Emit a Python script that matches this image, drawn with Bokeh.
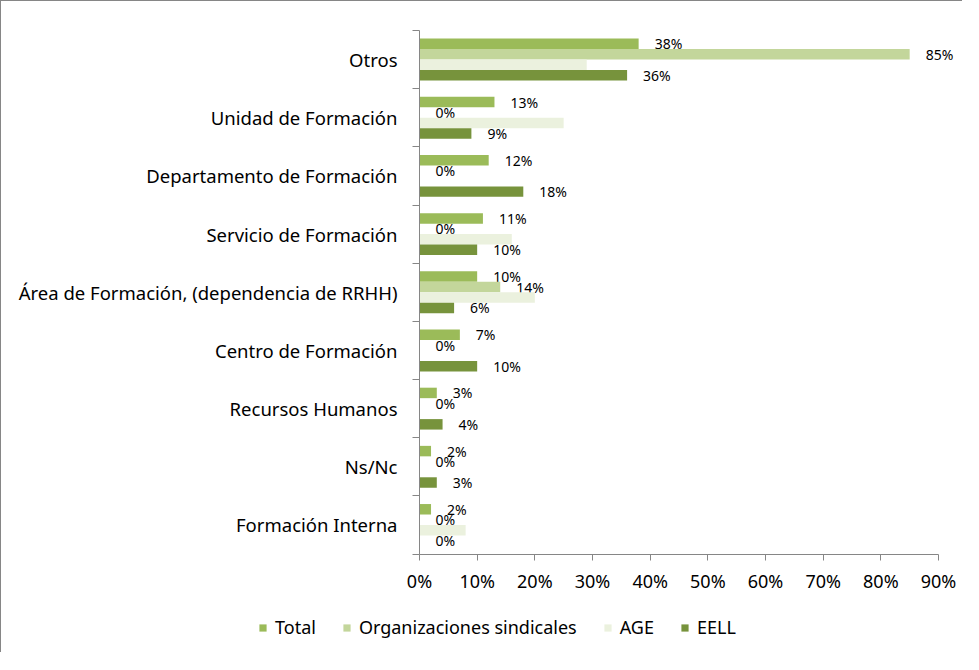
from bokeh.plotting import figure
from bokeh.models import (ColumnDataSource, Range1d, FixedTicker, Legend, LegendItem,
                          PrintfTickFormatter)
from bokeh.core.properties import value
from bokeh.embed import file_html
from bokeh.resources import INLINE

# ---- data (top to bottom as shown) ----
categories = ["Otros", "Unidad de Formación", "Departamento de Formación",
              "Servicio de Formación", "Área de Formación, (dependencia de RRHH)",
              "Centro de Formación", "Recursos Humanos", "Ns/Nc", "Formación Interna"]
series_names = ["Total", "Organizaciones sindicales", "AGE", "EELL"]
total = [38, 13, 12, 11, 10, 7, 3, 2, 2]
org_sindicales = [85, 0, 0, 0, 14, 0, 0, 0, 0]
age = [29, 25, 0, 16, 20, 0, 0, 0, 8]
eell = [36, 9, 18, 10, 6, 10, 4, 3, 0]
x_ticks = [0, 10, 20, 30, 40, 50, 60, 70, 80, 90]

colors = ["#9BBB59", "#C3D69B", "#EBF1DE", "#77933C"]
offsets = [0.27, 0.09, -0.09, -0.27]
show_labels = [True, True, False, True]
FONT = "Noto Sans"
AXIS_GREY = "#868686"

n = len(categories)
pos = [n - 1 - i for i in range(n)]

# layout geometry (pixels)
W, H = 962, 652
LEFT_PX, TOP_PX, BOTTOM_PX = 418, 29, 99.5
px_x = 519 / x_ticks[-1]          # pixels per percent
px_y = 524 / n                    # pixels per category
x_lo, x_hi = x_ticks[0], x_ticks[-1]
y_lo, y_hi = -0.5, n - 0.5

p = figure(width=W, height=H, output_backend="svg", toolbar_location=None,
           x_range=Range1d(x_lo - LEFT_PX / px_x, x_lo + (W - LEFT_PX) / px_x),
           y_range=Range1d(y_lo - BOTTOM_PX / px_y, y_hi + TOP_PX / px_y),
           min_border_left=0, min_border_right=0, min_border_top=0, min_border_bottom=0,
           styles={"border-left": f"1px solid {AXIS_GREY}", "border-top": f"1px solid {AXIS_GREY}"})
p.outline_line_color = None
p.xgrid.grid_line_color = None
p.ygrid.grid_line_color = None

renderers = []
for vals, name, col, off, show in zip([total, org_sindicales, age, eell], series_names,
                                      colors, offsets, show_labels):
    src = ColumnDataSource(dict(y=[pp + off for pp in pos], v=vals,
                                lbl=[f"{v}%" for v in vals]))
    r = p.hbar(y="y", left=0, right="v", height=0.18, source=src,
               fill_color=col, line_color=None)
    renderers.append(r)
    if show:
        p.text(x="v", y="y", text="lbl", source=src, x_offset=16,
               text_baseline="middle", text_align="left",
               text_font=value(FONT), text_font_size="14px", text_color="#000000")

# y axis (inside the frame at x = 0)
ya = p.yaxis[0]
ya.fixed_location = x_lo
ya.bounds = (y_lo, y_hi)
ya.ticker = FixedTicker(ticks=pos, minor_ticks=[k - 0.5 for k in range(n + 1)])
ya.major_label_overrides = {pp: c for pp, c in zip(pos, categories)}
ya.major_tick_out = 0
ya.major_tick_in = 0
ya.minor_tick_out = 7
ya.minor_tick_in = 0
ya.minor_tick_line_color = AXIS_GREY
ya.axis_line_color = AXIS_GREY
ya.major_label_text_font = FONT
ya.major_label_text_font_size = "18.5px"
ya.major_label_text_color = "#000000"
ya.major_label_standoff = 15

# x axis (inside the frame at the bottom of the category band)
xa = p.xaxis[0]
xa.fixed_location = y_lo
xa.bounds = (x_lo, x_hi)
xa.ticker = FixedTicker(ticks=x_ticks)
xa.formatter = PrintfTickFormatter(format="%d%%")
xa.major_tick_out = 6
xa.major_tick_in = 0
xa.minor_tick_out = 0
xa.minor_tick_in = 0
xa.major_tick_line_color = AXIS_GREY
xa.axis_line_color = AXIS_GREY
xa.major_label_text_font = FONT
xa.major_label_text_font_size = "18px"
xa.major_label_text_color = "#000000"
xa.major_label_standoff = 9

legend = Legend(items=[LegendItem(label=nm, renderers=[r]) for nm, r in zip(series_names, renderers)],
                orientation="horizontal", location=(257, 14),
                glyph_width=9, glyph_height=9, label_standoff=8, spacing=26,
                padding=0, margin=0, border_line_color=None, background_fill_alpha=0,
                label_text_font=FONT, label_text_font_size="18px", label_text_color="#000000",
                label_height=20)
p.add_layout(legend, "center")

open("out.html", "w").write(file_html(p, INLINE))
